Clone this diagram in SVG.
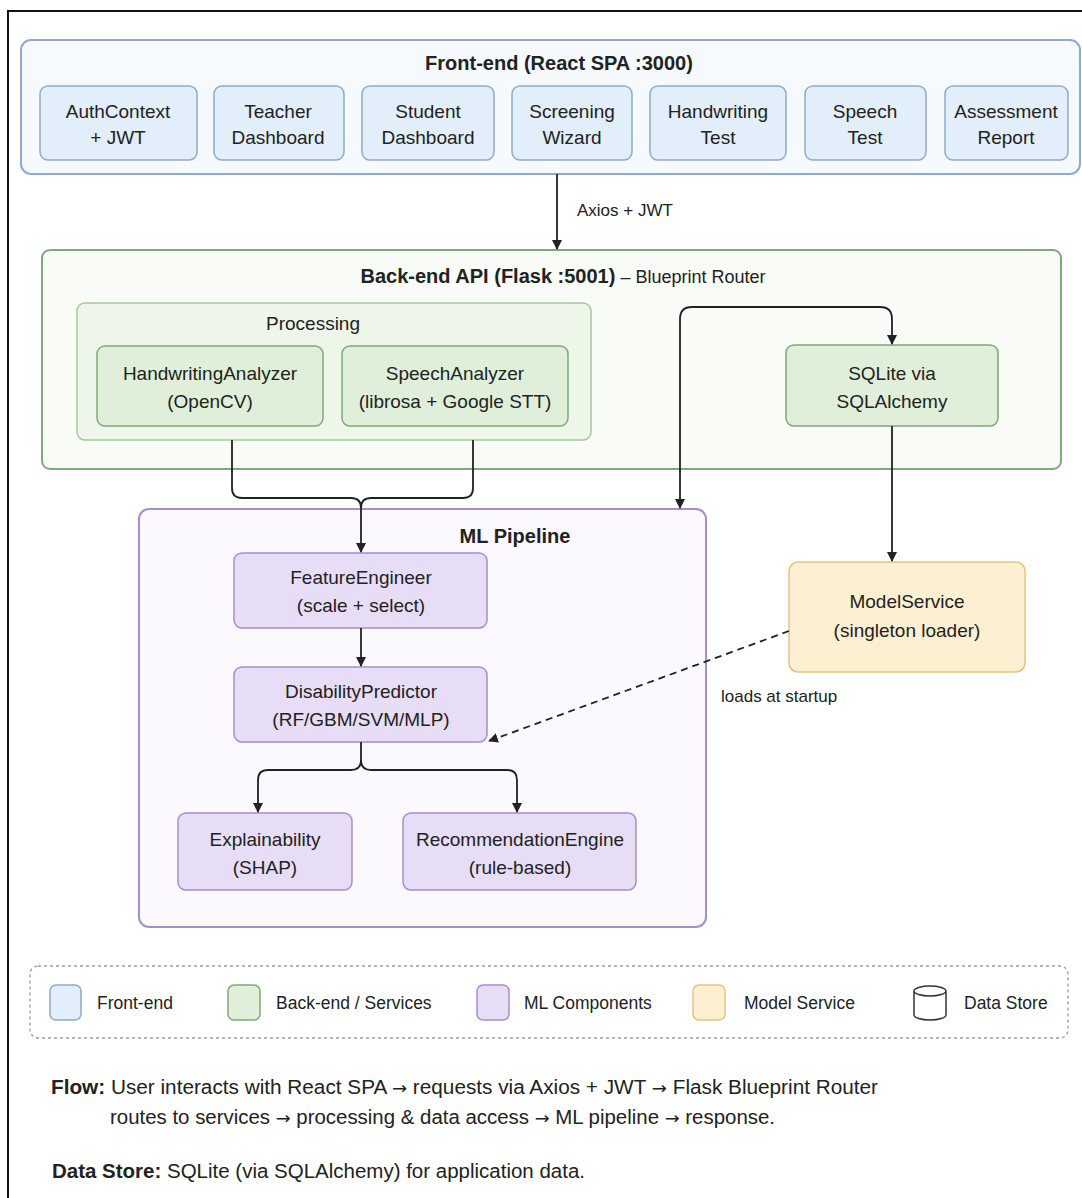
<svg xmlns="http://www.w3.org/2000/svg" width="1082" height="1198" viewBox="0 0 1082 1198">
<defs>
<marker id="arr" viewBox="0 0 10 10" refX="9" refY="5" markerWidth="10" markerHeight="10" markerUnits="userSpaceOnUse" orient="auto-start-reverse">
<path d="M0,0 L10,5 L0,10 z" fill="#222"/>
</marker>
<marker id="arrs" viewBox="0 0 10 10" refX="9" refY="5" markerWidth="10" markerHeight="10" markerUnits="userSpaceOnUse" orient="auto">
<path d="M0,0 L10,5 L0,10 z" fill="#222"/>
</marker>
</defs>
<style>
text{font-family:"Liberation Sans",Arial,sans-serif;fill:#222;}
.t{font-size:19px;text-anchor:middle;}
.h{font-size:20px;font-weight:bold;text-anchor:middle;}
.fe{fill:#e2eef9;stroke:#8eabc8;stroke-width:1.5;}
.fec{fill:#f6f9fd;stroke:#8eabc8;stroke-width:2;}
.be{fill:#dfefd9;stroke:#7fa87b;stroke-width:1.5;}
.bec{fill:#f8fbf6;stroke:#7fa87b;stroke-width:2;}
.prc{fill:#edf6e9;stroke:#a2c99c;stroke-width:1.5;}
.ml{fill:#e8ddf6;stroke:#a68dcb;stroke-width:1.5;}
.mlc{fill:#fbf8fe;stroke:#a68dcb;stroke-width:2;}
.ms{fill:#fdf0d2;stroke:#e5c27c;stroke-width:1.5;}
.ln{fill:none;stroke:#222;stroke-width:1.8;}
.lg{font-size:17.5px;}
.ar{font-family:"DejaVu Sans",sans-serif;font-size:17px;}
</style>
<rect x="0" y="0" width="1082" height="1198" fill="#fff"/>
<path d="M8,1198 V11 H1082" fill="none" stroke="#111" stroke-width="2"/>

<g id="frontend">
<rect class="fec" x="21" y="40" width="1059" height="134" rx="10"/>
<text class="h" x="559" y="70">Front-end (React SPA :3000)</text>
</g>
<g id="fe-auth"><rect class="fe" x="40" y="86" width="157" height="74" rx="8"/><text class="t" x="118" y="118">AuthContext</text><text class="t" x="118" y="144">+ JWT</text></g>
<g id="fe-teacher"><rect class="fe" x="214" y="86" width="130" height="74" rx="8"/><text class="t" x="278" y="118">Teacher</text><text class="t" x="278" y="144">Dashboard</text></g>
<g id="fe-student"><rect class="fe" x="362" y="86" width="132" height="74" rx="8"/><text class="t" x="428" y="118">Student</text><text class="t" x="428" y="144">Dashboard</text></g>
<g id="fe-screening"><rect class="fe" x="512" y="86" width="120" height="74" rx="8"/><text class="t" x="572" y="118">Screening</text><text class="t" x="572" y="144">Wizard</text></g>
<g id="fe-handwriting"><rect class="fe" x="650" y="86" width="136" height="74" rx="8"/><text class="t" x="718" y="118">Handwriting</text><text class="t" x="718" y="144">Test</text></g>
<g id="fe-speech"><rect class="fe" x="805" y="86" width="121" height="74" rx="8"/><text class="t" x="865" y="118">Speech</text><text class="t" x="865" y="144">Test</text></g>
<g id="fe-report"><rect class="fe" x="945" y="86" width="123" height="74" rx="8"/><text class="t" x="1006" y="118">Assessment</text><text class="t" x="1006" y="144">Report</text></g>

<g id="backend">
<rect class="bec" x="42" y="250" width="1019" height="219" rx="8"/>
<text x="563" y="283" text-anchor="middle"><tspan font-size="20" font-weight="bold">Back-end API (Flask :5001)</tspan><tspan font-size="18"> – Blueprint Router</tspan></text>
</g>
<g id="processing">
<rect class="prc" x="77" y="303" width="514" height="137" rx="8"/>
<text class="t" x="313" y="330">Processing</text>
</g>
<g id="handwriting-analyzer"><rect class="be" x="97" y="346" width="226" height="80" rx="8"/><text class="t" x="210" y="380">HandwritingAnalyzer</text><text class="t" x="210" y="408">(OpenCV)</text></g>
<g id="speech-analyzer"><rect class="be" x="342" y="346" width="226" height="80" rx="8"/><text class="t" x="455" y="380">SpeechAnalyzer</text><text class="t" x="455" y="408">(librosa + Google STT)</text></g>
<g id="sqlite"><rect class="be" x="786" y="345" width="212" height="81" rx="8"/><text class="t" x="892" y="380">SQLite via</text><text class="t" x="892" y="408">SQLAlchemy</text></g>

<g id="ml-pipeline">
<rect class="mlc" x="139" y="509" width="567" height="418" rx="10"/>
<text class="h" x="515" y="543">ML Pipeline</text>
</g>
<g id="feature-engineer"><rect class="ml" x="234" y="553" width="253" height="75" rx="8"/><text class="t" x="361" y="584">FeatureEngineer</text><text class="t" x="361" y="612">(scale + select)</text></g>
<g id="disability-predictor"><rect class="ml" x="234" y="667" width="253" height="75" rx="8"/><text class="t" x="361" y="698">DisabilityPredictor</text><text class="t" x="361" y="726">(RF/GBM/SVM/MLP)</text></g>
<g id="explainability"><rect class="ml" x="178" y="813" width="174" height="77" rx="8"/><text class="t" x="265" y="846">Explainability</text><text class="t" x="265" y="874">(SHAP)</text></g>
<g id="recommendation"><rect class="ml" x="403" y="813" width="233" height="77" rx="8"/><text class="t" x="520" y="846">RecommendationEngine</text><text class="t" x="520" y="874">(rule-based)</text></g>

<g id="model-service"><rect class="ms" x="789" y="562" width="236" height="110" rx="9"/><text class="t" x="907" y="608">ModelService</text><text class="t" x="907" y="637">(singleton loader)</text></g>

<g id="connectors">
<path class="ln" d="M557,174 V249" marker-end="url(#arr)"/>
<text x="577" y="216" font-size="17">Axios + JWT</text>
<path class="ln" d="M680,508 V319 Q680,307 692,307 H880 Q892,307 892,319 V344" marker-start="url(#arr)" marker-end="url(#arr)"/>
<path class="ln" d="M892,426 V561" marker-end="url(#arr)"/>
<path class="ln" d="M232,440 V488 Q232,498 242,498 H351 Q361,498 361,508 V552" marker-end="url(#arr)"/>
<path class="ln" d="M473,440 V488 Q473,498 463,498 H371 Q361,498 361,508"/>
<path class="ln" d="M361,628 V666" marker-end="url(#arr)"/>
<path class="ln" d="M361,742 V760 Q361,770 351,770 H268 Q258,770 258,780 V812" marker-end="url(#arr)"/>
<path class="ln" d="M361,760 Q361,770 371,770 H507 Q517,770 517,780 V812" marker-end="url(#arr)"/>
<path class="ln" d="M789,631 L489,741" stroke-dasharray="7,5" marker-end="url(#arrs)"/>
<text x="721" y="702" font-size="17">loads at startup</text>
</g>

<g id="legend">
<rect x="30" y="966" width="1038" height="72" rx="8" fill="none" stroke="#999" stroke-width="1.3" stroke-dasharray="3,3"/>
<rect class="fe" x="50" y="985" width="31" height="35" rx="6"/>
<text class="lg" x="97" y="1009">Front-end</text>
<rect class="be" x="228" y="985" width="32" height="35" rx="6"/>
<text class="lg" x="276" y="1009">Back-end / Services</text>
<rect class="ml" x="477" y="985" width="32" height="35" rx="6"/>
<text class="lg" x="524" y="1009">ML Components</text>
<rect class="ms" x="693" y="985" width="32" height="35" rx="6"/>
<text class="lg" x="744" y="1009">Model Service</text>
<path d="M914,991 V1015 A16,5 0 0 0 946,1015 V991 A16,5 0 0 0 914,991 A16,5 0 0 0 946,991" fill="#fff" stroke="#333" stroke-width="1.5"/>
<text class="lg" x="964" y="1009">Data Store</text>
</g>

<g id="notes">
<text x="51" y="1094" font-size="19.5" textLength="827" lengthAdjust="spacingAndGlyphs"><tspan font-weight="bold">Flow:</tspan> User interacts with React SPA <tspan class="ar">→</tspan> requests via Axios + JWT <tspan class="ar">→</tspan> Flask Blueprint Router</text>
<text x="110" y="1124" font-size="19.5" textLength="665" lengthAdjust="spacingAndGlyphs">routes to services <tspan class="ar">→</tspan> processing &amp; data access <tspan class="ar">→</tspan> ML pipeline <tspan class="ar">→</tspan> response.</text>
<text x="52" y="1178" font-size="19.5" textLength="533" lengthAdjust="spacingAndGlyphs"><tspan font-weight="bold">Data Store:</tspan>  SQLite (via SQLAlchemy) for application data.</text>
</g>
</svg>
